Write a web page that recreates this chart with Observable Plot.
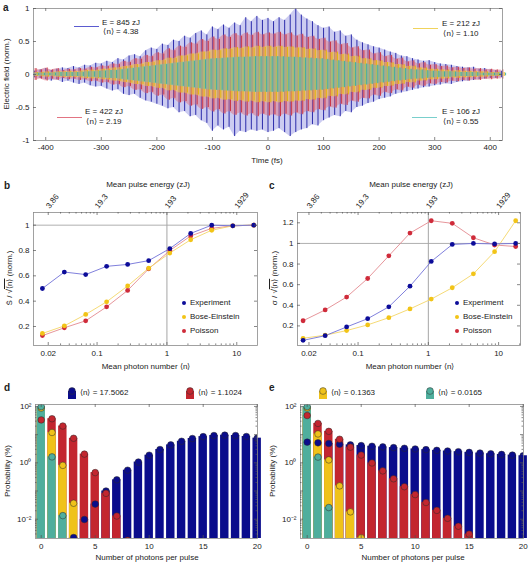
<!DOCTYPE html>
<html><head><meta charset="utf-8">
<script src="https://cdn.jsdelivr.net/npm/d3@7"></script>
<script src="https://cdn.jsdelivr.net/npm/@observablehq/plot@0.6"></script>
<style>
html,body{margin:0;padding:0;background:#fff;}
#root{position:relative;width:531px;height:563px;overflow:hidden;font-family:"Liberation Sans",Arial,Helvetica,sans-serif;color:#222;}
#root svg{position:absolute;}
.lbl{position:absolute;white-space:nowrap;line-height:1;font-size:8px;color:#222;}
.ol{text-decoration:overline;}
</style></head>
<body><div id="root"></div>
<script>
// ---------- DATA ----------
// Panel a: field envelopes (norm.), sampled every 10 fs
const times = [-420,-410,-400,-390,-380,-370,-360,-350,-340,-330,-320,-310,-300,-290,-280,-270,-260,-250,-240,-230,-220,-210,-200,-190,-180,-170,-160,-150,-140,-130,-120,-110,-100,-90,-80,-70,-60,-50,-40,-30,-20,-10,0,10,20,30,40,50,60,70,80,90,100,110,120,130,140,150,160,170,180,190,200,210,220,230,240,250,260,270,280,290,300,310,320,330,340,350,360,370,380,390,400,410,420];
const blueHi = [0.05,0.07,0.09,0.06,0.08,0.10,0.09,0.12,0.10,0.14,
0.13,0.17,0.16,0.20,0.18,0.24,0.22,0.28,0.30,0.27,
0.36,0.40,0.38,0.46,0.44,0.52,0.50,0.58,0.55,0.62,
0.66,0.60,0.72,0.68,0.75,0.70,0.78,0.74,0.86,0.80,
0.88,0.82,0.85,0.80,0.86,0.82,0.90,1.00,0.90,0.84,
0.80,0.74,0.70,0.72,0.64,0.66,0.58,0.60,0.52,0.48,
0.45,0.42,0.40,0.37,0.34,0.32,0.28,0.27,0.24,0.22,
0.20,0.21,0.18,0.16,0.15,0.14,0.12,0.11,0.10,0.11,
0.08,0.09,0.07,0.06,0.05];
const blueLo = [0.05,0.06,0.08,0.10,0.08,0.12,0.10,0.13,0.15,0.13,
0.17,0.19,0.18,0.22,0.25,0.23,0.30,0.32,0.30,0.36,
0.40,0.42,0.45,0.48,0.52,0.50,0.58,0.56,0.64,0.62,
0.70,0.74,0.86,0.78,0.84,0.80,0.94,0.86,0.88,0.84,
0.86,0.84,0.88,0.86,0.82,0.88,0.94,0.88,0.84,0.82,
0.76,0.78,0.70,0.66,0.62,0.64,0.56,0.58,0.50,0.48,
0.44,0.42,0.38,0.36,0.34,0.30,0.28,0.26,0.24,0.22,
0.20,0.19,0.17,0.16,0.14,0.15,0.12,0.11,0.10,0.09,
0.08,0.07,0.06,0.06,0.05];
const redAmp = [0.09,0.07,0.10,0.07,0.09,0.06,0.08,0.07,0.09,0.08,
0.11,0.10,0.13,0.12,0.16,0.15,0.20,0.18,0.24,0.23,
0.29,0.27,0.33,0.31,0.39,0.36,0.43,0.41,0.48,0.46,
0.53,0.50,0.57,0.53,0.60,0.56,0.62,0.58,0.63,0.59,
0.64,0.60,0.63,0.61,0.64,0.60,0.63,0.58,0.61,0.56,
0.58,0.53,0.55,0.49,0.51,0.45,0.47,0.40,0.42,0.36,
0.37,0.31,0.33,0.27,0.29,0.23,0.25,0.19,0.21,0.16,
0.18,0.14,0.15,0.12,0.13,0.10,0.11,0.09,0.10,0.08,
0.09,0.07,0.08,0.07,0.07];
const yellowAmp = [0.03,0.03,0.04,0.03,0.04,0.04,0.05,0.04,0.05,0.06,
0.07,0.06,0.08,0.08,0.10,0.10,0.12,0.13,0.15,0.15,
0.18,0.18,0.21,0.21,0.25,0.24,0.28,0.28,0.31,0.31,
0.34,0.34,0.37,0.36,0.39,0.38,0.41,0.39,0.42,0.40,
0.43,0.41,0.43,0.41,0.43,0.41,0.42,0.40,0.41,0.38,
0.39,0.36,0.37,0.33,0.34,0.30,0.31,0.27,0.28,0.24,
0.24,0.21,0.21,0.18,0.18,0.15,0.15,0.12,0.13,0.10,
0.10,0.08,0.08,0.07,0.07,0.05,0.06,0.05,0.05,0.04,
0.04,0.04,0.03,0.03,0.03];
const tealAmp = [0.02,0.02,0.02,0.02,0.03,0.03,0.03,0.03,0.03,0.04,
0.04,0.05,0.05,0.06,0.06,0.07,0.08,0.09,0.10,0.11,
0.12,0.13,0.14,0.15,0.16,0.17,0.18,0.19,0.20,0.21,
0.22,0.23,0.24,0.24,0.25,0.25,0.26,0.26,0.26,0.27,
0.27,0.27,0.27,0.27,0.27,0.26,0.26,0.26,0.25,0.25,
0.24,0.24,0.23,0.22,0.21,0.20,0.19,0.18,0.17,0.16,
0.15,0.14,0.13,0.12,0.11,0.10,0.09,0.08,0.07,0.07,
0.06,0.05,0.05,0.04,0.04,0.04,0.03,0.03,0.03,0.03,
0.02,0.02,0.02,0.02,0.02];
const aXTicks = [-400,-300,-200,-100,0,100,200,300,400];
const aXLabels = ["-400","-300","-200","-100","0","100","200","300","400"];
const aYTicks = [-1,-0.5,0,0.5,1];
const aYLabels = ["-1","-0.5","0","0.5","1"];
const aLegend = [
  {e:"E = 845 zJ", n:"\u27E8n\u27E9 = 4.38"},
  {e:"E = 212 zJ", n:"\u27E8n\u27E9 = 1.10"},
  {e:"E = 422 zJ", n:"\u27E8n\u27E9 = 2.19"},
  {e:"E = 106 zJ", n:"\u27E8n\u27E9 = 0.55"}
];

// Panels b, c
const meanN = [0.0165,0.034,0.0687,0.137,0.274,0.548,1.10,2.19,4.38,8.77,17.5];
const bExp = [0.50,0.63,0.61,0.675,0.69,0.72,0.815,0.935,1.0,0.995,1.0];
const bBE  = [0.145,0.205,0.295,0.395,0.52,0.66,0.78,0.885,0.96,0.995,1.0];
const bPoi = [0.128,0.19,0.245,0.355,0.485,0.655,0.80,0.915,0.975,0.995,1.0];
const cExp = [0.06,0.105,0.19,0.27,0.385,0.585,0.825,0.99,1.0,0.995,1.0];
const cBE  = [0.08,0.11,0.155,0.21,0.28,0.365,0.46,0.57,0.705,0.92,1.22];
const cPoi = [0.25,0.355,0.48,0.66,0.88,1.10,1.22,1.195,1.055,0.985,0.97];
const bcSeries = ["Experiment","Bose-Einstein","Poisson"];
const nTicks = [0.02,0.1,1,10];
const nTickLabels = ["0.02","0.1","1","10"];
const energyTickLabels = ["3.86","19.3","193","1929"];
const bYTicks = [0.2,0.4,0.6,0.8,1];
const bYLabels = ["0.2","0.4","0.6","0.8","1"];
const cYTicks = [0.2,0.4,0.6,0.8,1,1.2];
const cYLabels = ["0.2","0.4","0.6","0.8","1","1.2"];

// Panels d (Poisson), e (Bose-Einstein): probability (%)
const photons = [0,1,2,3,4,5,6,7,8,9,10,11,12,13,14,15,16,17,18,19,20];
const dBlue   = [2.5e-6,4.4e-5,3.8e-4,0.00224,0.0098,0.0343,0.100,0.250,0.548,1.065,1.864,2.966,4.325,5.822,7.277,8.49,9.29,9.56,9.30,8.56,7.49];
const dRed    = [33.2,36.6,20.2,7.42,2.04,0.451,0.0828,0.0130,0.0018,2.2e-4,2.4e-5,2.4e-6,null,null,null,null,null,null,null,null,null];
const dYellow = [87.3,11.9,0.811,0.0368,0.00126,3.4e-5,null,null,null,null,null,null,null,null,null,null,null,null,null,null,null];
const dTeal   = [98.4,1.623,0.0134,7.4e-5,null,null,null,null,null,null,null,null,null,null,null,null,null,null,null,null,null];
const eBlue   = [5.404,5.112,4.836,4.575,4.327,4.094,3.872,3.663,3.465,3.278,3.101,2.933,2.775,2.625,2.483,2.349,2.222,2.102,1.988,1.881,1.779];
const eRed    = [47.57,24.94,13.08,6.858,3.596,1.886,0.9887,0.5184,0.2718,0.1425,0.07474,0.03919,0.02055,0.01078,0.00565,0.002963,0.001553,8.1e-4,4.3e-4,2.2e-4,1.2e-4];
const eYellow = [88.0,10.56,1.266,0.1519,0.01822,0.002186,2.6e-4,null,null,null,null,null,null,null,null,null,null,null,null,null,null];
const eTeal   = [98.38,1.597,0.02592,4.2e-4,null,null,null,null,null,null,null,null,null,null,null,null,null,null,null,null,null];
const dLegend = ["\u27E8n\u27E9 = 17.5062","\u27E8n\u27E9 = 1.1024"];
const eLegend = ["\u27E8n\u27E9 = 0.1363","\u27E8n\u27E9 = 0.0165"];
const probTicks = [100,1,0.01];
const probLabels = ["10\u00B2","10\u2070","10\u207B\u00B2"];
const photonTicks = [0,5,10,15,20];
const photonLabels = ["0","5","10","15","20"];

// ---------- STYLE ----------
const FONT = '"Liberation Sans", Arial, Helvetica, sans-serif';
const C = {blue:"#0a0c8c", red:"#c3262f", yellow:"#efc21a", teal:"#4fae9d"};
const DOT = {blue:"#0c0c99", yellow:"#f2c417", red:"#cf2b3a"};
const LINE = {blue:"#7272d8", yellow:"#f4d666", red:"#e38a90"};
const FR = "#8a8a8a";
const root = document.getElementById("root");

function addSvg(svg, x, y){ svg.style.left = x+"px"; svg.style.top = y+"px"; root.appendChild(svg); }
function label(html, x, y, o={}){
  const d = document.createElement("div"); d.className = "lbl"; d.innerHTML = html;
  d.style.left = x+"px"; d.style.top = y+"px";
  if (o.size) d.style.fontSize = o.size+"px";
  let tr = "";
  if (o.center) tr = "translate(-50%,-50%)";
  if (o.left) tr = "translate(0,-50%)";
  if (o.rot) tr = "translate(-50%,-50%) rotate(-90deg)";
  d.style.transform = tr;
  root.appendChild(d); return d;
}
function hline(x1, x2, y, color){ const d=document.createElement("div"); d.style.cssText=`position:absolute;left:${x1}px;top:${y}px;width:${x2-x1}px;height:1.2px;background:${color};`; root.appendChild(d);}
function dotDiv(x, y, r, color){ const d=document.createElement("div"); d.style.cssText=`position:absolute;left:${x-r}px;top:${y-r}px;width:${2*r}px;height:${2*r}px;border-radius:50%;background:${color};`; root.appendChild(d);}
function swatch(x, y, color){
  const ns="http://www.w3.org/2000/svg"; const s=document.createElementNS(ns,"svg");
  s.setAttribute("width",10); s.setAttribute("height",12);
  s.innerHTML=`<rect x="1" y="4" width="8" height="8" fill="${color}"/><circle cx="5" cy="4" r="3.4" fill="${color}" stroke="#333" stroke-width="0.5"/>`;
  s.style.left=x+"px"; s.style.top=y+"px"; root.appendChild(s);
}
function inTicksX(vals, h, len=3, both=true){
  const m=[Plot.ruleX(vals,{insetTop:h-len, stroke:"#555", strokeWidth:0.7})];
  if (both) m.push(Plot.ruleX(vals,{insetBottom:h-len, stroke:"#555", strokeWidth:0.7}));
  return m;
}
function inTicksY(vals, w, len=3){
  return [Plot.ruleY(vals,{insetRight:w-len, stroke:"#555", strokeWidth:0.7}),
          Plot.ruleY(vals,{insetLeft:w-len, stroke:"#555", strokeWidth:0.7})];
}
const baseStyle = {fontFamily: FONT, fontSize:"8px", background:"transparent", color:"#222", overflow:"visible"};
const fmt = (ticks, labels) => { const m = new Map(ticks.map((t,i)=>[t,labels[i]])); return d => m.get(d) ?? ""; };

// ---------- PANEL A ----------
{
  const W=531,H=165,mL=33,mR=29,mT=8,mB=25;
  const rows = (hi, lo) => times.map((t,i)=>({t, hi:hi[i], lo:-(lo?lo[i]:hi[i])}));
  const sB=rows(blueHi,blueLo), sR=rows(redAmp), sY=rows(yellowAmp), sT=rows(tealAmp);
  const series = [
    {d:sB, fill:"#8585de", fo:0.42, st:"#1a1aa3", dx:0},
    {d:sR, fill:"#df6b78", fo:0.45, st:"#c92a3a", dx:1.4},
    {d:sY, fill:"#f1d04a", fo:0.5, st:"#e4b500", dx:2.8},
    {d:sT, fill:"#66c4b8", fo:0.45, st:"#3aaa9f", dx:4.2}
  ];
  const marks = [];
  for (const s of series){
    marks.push(Plot.areaY(s.d,{x:"t", y1:"lo", y2:"hi", fill:s.fill, fillOpacity:s.fo}));
    marks.push(Plot.ruleX(s.d,{x:"t", y1:"lo", y2:"hi", stroke:s.st, strokeWidth:0.9, dx:s.dx}));
  }
  const p = Plot.plot({
    width:W, height:H, marginLeft:mL, marginRight:mR, marginTop:mT, marginBottom:mB,
    style: baseStyle,
    x:{domain:[-422,422], axis:null}, y:{domain:[-1,1], axis:null},
    marks:[
      ...marks,
      Plot.frame({stroke:FR, strokeWidth:0.8}),
      ...inTicksX(aXTicks, H-mT-mB), ...inTicksY(aYTicks, W-mL-mR),
      Plot.axisX({ticks:aXTicks, tickSize:0, tickPadding:4, tickFormat:fmt(aXTicks,aXLabels), label:null}),
      Plot.axisY({ticks:aYTicks, tickSize:0, tickPadding:4, tickFormat:fmt(aYTicks,aYLabels), label:null})
    ]
  });
  addSvg(p, 0, 0);
  label("<b>a</b>", 3, 3, {size:10});
  label("Time (fs)", 267, 161, {center:true});
  label("Electric field (norm.)", 7, 74, {rot:true});
  hline(74, 99, 26, "#5b5bd0"); label(aLegend[0].e, 121, 23, {center:true}); label(aLegend[0].n, 121, 32, {center:true});
  hline(413, 438, 28, "#f0d35c"); label(aLegend[1].e, 461, 24, {center:true}); label(aLegend[1].n, 461, 34, {center:true});
  hline(57, 82, 117, "#e27482"); label(aLegend[2].e, 104, 112, {center:true}); label(aLegend[2].n, 104, 122, {center:true});
  hline(412, 437, 117, "#79cfcc"); label(aLegend[3].e, 461, 112, {center:true}); label(aLegend[3].n, 461, 122, {center:true});
}

// ---------- PANELS B, C ----------
function bcPanel(vals, xDom, yDom, yTicks, yLabels, W, mL, mR, x0){
  const H=200,mT=42,mB=25;
  const pw=W-mL-mR, ph=H-mT-mB;
  const keys=["red","yellow","blue"];
  const dataBy = {blue:vals[0], yellow:vals[1], red:vals[2]};
  const marks=[
    Plot.ruleY([1],{stroke:"#9a9a9a", strokeWidth:0.8}),
    Plot.ruleX([1],{stroke:"#a5a5a5", strokeWidth:1})
  ];
  for (const k of keys){
    const rows = meanN.map((n,i)=>({n, v:dataBy[k][i]}));
    marks.push(Plot.line(rows,{x:"n", y:"v", stroke:LINE[k], strokeWidth:0.9}));
  }
  for (const k of keys){
    const rows = meanN.map((n,i)=>({n, v:dataBy[k][i]}));
    marks.push(Plot.dot(rows,{x:"n", y:"v", r:2.4, fill:DOT[k], stroke:"none"}));
  }
  const minor = d3.scaleLog().domain(xDom).ticks().filter(t=>!nTicks.includes(t));
  const p = Plot.plot({
    width:W, height:H, marginLeft:mL, marginRight:mR, marginTop:mT, marginBottom:mB,
    style: baseStyle,
    x:{type:"log", domain:xDom, axis:null}, y:{domain:yDom, axis:null},
    marks:[
      ...marks,
      Plot.frame({stroke:FR, strokeWidth:0.8}),
      ...inTicksX(nTicks, ph, 3), ...inTicksX(minor, ph, 1.6),
      ...inTicksY(yTicks, pw, 3),
      Plot.axisX({ticks:nTicks, tickSize:0, tickPadding:5, tickFormat:fmt(nTicks,nTickLabels), label:null}),
      Plot.axisY({ticks:yTicks, tickSize:0, tickPadding:4, tickFormat:fmt(yTicks,yLabels), label:null}),
      Plot.text(nTicks,{x:d=>d, frameAnchor:"top", text:(d,i)=>energyTickLabels[i], rotate:-52, textAnchor:"start", dy:-7, dx:-3, fontSize:8})
    ]
  });
  addSvg(p, x0, 170);
}
bcPanel([bExp,bBE,bPoi], [0.0123,19.8], [0.05,1.10], bYTicks, bYLabels, 265, 33, 8, 0);
bcPanel([cExp,cBE,cPoi], [0.01374,20.5], [0.01,1.30], cYTicks, cYLabels, 266, 32, 11, 265);
label("<b>b</b>", 4, 181, {size:10});
label("<b>c</b>", 269, 181, {size:10});
label("Mean pulse energy (zJ)", 148, 185, {center:true});
label("Mean pulse energy (zJ)", 411, 185, {center:true});
label("Mean photon number \u27E8n\u27E9", 146, 367, {center:true});
label("Mean photon number \u27E8n\u27E9", 410, 367, {center:true});
label("S\u0304 / \u221A<span class='ol'>\u27E8n\u27E9</span> (norm.)", 10, 278, {rot:true});
label("\u03C3 / \u221A<span class='ol'>\u27E8n\u27E9</span> (norm.)", 275, 278, {rot:true});
const legColors = [DOT.blue, DOT.yellow, DOT.red];
[303,317,331].forEach((y,i)=>{ dotDiv(184,y,2.4,legColors[i]); label(bcSeries[i], 190, y, {left:true}); });
[303,317,331].forEach((y,i)=>{ dotDiv(457,y,2.4,legColors[i]); label(bcSeries[i], 463, y, {left:true}); });

// ---------- PANELS D, E ----------
function distPanel(arrs, xDom, W, mL, mR, x0){
  const H=188,mT=29,mB=25, yMin=0.00207, yMax=117;
  const pw=W-mL-mR, ph=H-mT-mB;
  const order=["blue","red","yellow","teal"];
  const marks=[];
  for (const k of order){
    const rows = photons.map((n,i)=>({n, p:arrs[k][i]})).filter(d=>d.p!=null && d.p>yMin);
    marks.push(Plot.rect(rows,{x1:d=>d.n-0.39, x2:d=>d.n+0.39, y1:()=>yMin, y2:"p", fill:C[k]}));
  }
  for (const k of order){
    const rows = photons.map((n,i)=>({n, p:arrs[k][i]})).filter(d=>d.p!=null && d.p>yMin*0.8);
    marks.push(Plot.dot(rows,{x:"n", y:"p", r:3.3, fill:C[k], stroke:"#2a2a2a", strokeWidth:0.5, clip:true}));
  }
  const decades=[100,10,1,0.1,0.01];
  const minorY = d3.scaleLog().domain([yMin,yMax]).ticks().filter(t=>!decades.some(d=>Math.abs(d-t)/d<1e-6));
  const p = Plot.plot({
    width:W, height:H, marginLeft:mL, marginRight:mR, marginTop:mT, marginBottom:mB,
    style: baseStyle,
    x:{domain:xDom, axis:null}, y:{type:"log", domain:[yMin,yMax], axis:null},
    marks:[
      ...marks,
      Plot.frame({stroke:FR, strokeWidth:0.8}),
      ...inTicksX(photonTicks, ph, 3),
      ...inTicksY(decades, pw, 3), ...inTicksY(minorY, pw, 1.5),
      Plot.axisX({ticks:photonTicks, tickSize:0, tickPadding:5, tickFormat:fmt(photonTicks,photonLabels), label:null}),
      Plot.axisY({ticks:probTicks, tickSize:0, tickPadding:4, tickFormat:fmt(probTicks,probLabels), label:null})
    ]
  });
  addSvg(p, x0, 375);
}
distPanel({blue:dBlue, red:dRed, yellow:dYellow, teal:dTeal}, [-0.53,20.03], 265, 35, 8, 0);
distPanel({blue:eBlue, red:eRed, yellow:eYellow, teal:eTeal}, [-0.62,20.03], 266, 35, 8, 265);
label("<b>d</b>", 4, 383, {size:10});
label("<b>e</b>", 269, 383, {size:10});
label("Number of photons per pulse", 147, 558, {center:true});
label("Number of photons per pulse", 413, 558, {center:true});
label("Probability (%)", 8, 471, {rot:true});
label("Probability (%)", 273, 471, {rot:true});
swatch(67, 387, C.blue);  label(dLegend[0], 80, 393, {left:true});
swatch(185, 387, C.red);  label(dLegend[1], 198, 393, {left:true});
swatch(318, 387, C.yellow); label(eLegend[0], 331, 393, {left:true});
swatch(425, 387, C.teal); label(eLegend[1], 438, 393, {left:true});
</script>
</body></html>
